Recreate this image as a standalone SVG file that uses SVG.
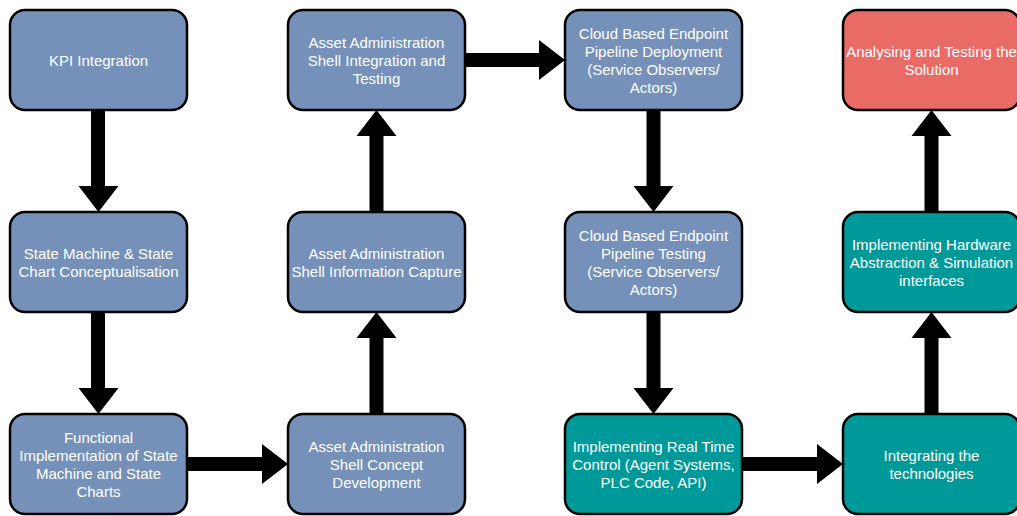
<svg xmlns="http://www.w3.org/2000/svg" width="1017" height="516" viewBox="0 0 1017 516">
  <style>
    .box { stroke: #000; stroke-width: 2.5; }
    .blue { fill: #7591B9; }
    .teal { fill: #009999; }
    .red { fill: #EA6B66; }
    .label { font-family: "Liberation Sans", Arial, sans-serif; font-size: 15px; fill: #fff; text-anchor: middle; dominant-baseline: central; }
    .arrow { fill: #000; }
  </style>
  <rect width="1017" height="516" fill="#fff"/>

  <!-- block arrows: shaft 14 wide, head 40 wide x 26 long -->
  <g id="connectors">
    <!-- down: KPI -> State Machine -->
    <path class="arrow" d="M91,110 H105 V186 H118.5 L98.5,212 L78.5,186 H91 Z"/>
    <!-- down: State Machine -> Functional Implementation -->
    <path class="arrow" d="M91,312 H105 V388 H118.5 L98.5,414 L78.5,388 H91 Z"/>
    <!-- right: Functional Implementation -> Concept Development -->
    <path class="arrow" d="M187,457 V471 H262 V484 L288,464 L262,444 V457 Z"/>
    <!-- up: Concept Development -> Information Capture -->
    <path class="arrow" d="M369.5,414 V338 H356.5 L376.5,312 L396.5,338 H383.5 V414 Z"/>
    <!-- up: Information Capture -> Integration and Testing -->
    <path class="arrow" d="M369.5,212 V136 H356.5 L376.5,110 L396.5,136 H383.5 V212 Z"/>
    <!-- right: Integration and Testing -> Pipeline Deployment -->
    <path class="arrow" d="M465,53 V67 H539 V80 L565,60 L539,40 V53 Z"/>
    <!-- down: Pipeline Deployment -> Pipeline Testing -->
    <path class="arrow" d="M646.5,110 H660.5 V186 H673.5 L653.5,212 L633.5,186 H646.5 Z"/>
    <!-- down: Pipeline Testing -> Real Time Control -->
    <path class="arrow" d="M646.5,312 H660.5 V388 H673.5 L653.5,414 L633.5,388 H646.5 Z"/>
    <!-- right: Real Time Control -> Integrating -->
    <path class="arrow" d="M742,457 V471 H817 V484 L843,464 L817,444 V457 Z"/>
    <!-- up: Integrating -> Hardware Abstraction -->
    <path class="arrow" d="M924.5,414 V338 H911.5 L931.5,312 L951.5,338 H938.5 V414 Z"/>
    <!-- up: Hardware Abstraction -> Analysing -->
    <path class="arrow" d="M924.5,212 V136 H911.5 L931.5,110 L951.5,136 H938.5 V212 Z"/>
  </g>

  <g id="kpi-integration">
    <rect class="box blue" x="10" y="10" width="177" height="100" rx="15"/>
    <text class="label" x="98.5" y="60">KPI Integration</text>
  </g>
  <g id="state-machine">
    <rect class="box blue" x="10" y="212" width="177" height="100" rx="15"/>
    <text class="label" x="98.5" y="253">State Machine &amp; State</text>
    <text class="label" x="98.5" y="271">Chart Conceptualisation</text>
  </g>
  <g id="functional-implementation">
    <rect class="box blue" x="10" y="414" width="177" height="100" rx="15"/>
    <text class="label" x="98.5" y="437">Functional</text>
    <text class="label" x="98.5" y="455">Implementation of State</text>
    <text class="label" x="98.5" y="473">Machine and State</text>
    <text class="label" x="98.5" y="491">Charts</text>
  </g>

  <g id="aas-integration-testing">
    <rect class="box blue" x="288" y="10" width="177" height="100" rx="15"/>
    <text class="label" x="376.5" y="42">Asset Administration</text>
    <text class="label" x="376.5" y="60">Shell Integration and</text>
    <text class="label" x="376.5" y="78">Testing</text>
  </g>
  <g id="aas-information-capture">
    <rect class="box blue" x="288" y="212" width="177" height="100" rx="15"/>
    <text class="label" x="376.5" y="253">Asset Administration</text>
    <text class="label" x="376.5" y="271">Shell Information Capture</text>
  </g>
  <g id="aas-concept-development">
    <rect class="box blue" x="288" y="414" width="177" height="100" rx="15"/>
    <text class="label" x="376.5" y="446">Asset Administration</text>
    <text class="label" x="376.5" y="464">Shell Concept</text>
    <text class="label" x="376.5" y="482">Development</text>
  </g>

  <g id="pipeline-deployment">
    <rect class="box blue" x="565" y="10" width="177" height="100" rx="15"/>
    <text class="label" x="653.5" y="33">Cloud Based Endpoint</text>
    <text class="label" x="653.5" y="51">Pipeline Deployment</text>
    <text class="label" x="653.5" y="69">(Service Observers/</text>
    <text class="label" x="653.5" y="87">Actors)</text>
  </g>
  <g id="pipeline-testing">
    <rect class="box blue" x="565" y="212" width="177" height="100" rx="15"/>
    <text class="label" x="653.5" y="235">Cloud Based Endpoint</text>
    <text class="label" x="653.5" y="253">Pipeline Testing</text>
    <text class="label" x="653.5" y="271">(Service Observers/</text>
    <text class="label" x="653.5" y="289">Actors)</text>
  </g>
  <g id="real-time-control">
    <rect class="box teal" x="565" y="414" width="177" height="100" rx="15"/>
    <text class="label" x="653.5" y="446">Implementing Real Time</text>
    <text class="label" x="653.5" y="464">Control (Agent Systems,</text>
    <text class="label" x="653.5" y="482">PLC Code, API)</text>
  </g>

  <g id="analysing-testing">
    <rect class="box red" x="843" y="10" width="177" height="100" rx="15"/>
    <text class="label" x="931.5" y="51">Analysing and Testing the</text>
    <text class="label" x="931.5" y="69">Solution</text>
  </g>
  <g id="hardware-abstraction">
    <rect class="box teal" x="843" y="212" width="177" height="100" rx="15"/>
    <text class="label" x="931.5" y="244">Implementing Hardware</text>
    <text class="label" x="931.5" y="262">Abstraction &amp; Simulation</text>
    <text class="label" x="931.5" y="280">interfaces</text>
  </g>
  <g id="integrating-technologies">
    <rect class="box teal" x="843" y="414" width="177" height="100" rx="15"/>
    <text class="label" x="931.5" y="455">Integrating the</text>
    <text class="label" x="931.5" y="473">technologies</text>
  </g>
</svg>
